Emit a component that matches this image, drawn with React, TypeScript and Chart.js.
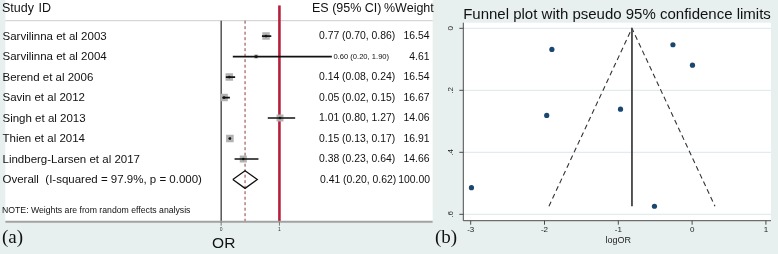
import React, { useEffect, useRef } from 'react';
import { Chart, registerables } from 'chart.js';

Chart.register(...registerables);

// ---------- Panel (a): forest plot data ----------
const studies = [
  'Sarvilinna et al 2003',
  'Sarvilinna et al 2004',
  'Berend et al 2006',
  'Savin et al 2012',
  'Singh et al 2013',
  'Thien et al 2014',
  'Lindberg-Larsen et al 2017',
];
const oddsRatios = [0.77, 0.6, 0.14, 0.05, 1.01, 0.15, 0.38];
const ciLower = [0.7, 0.2, 0.08, 0.02, 0.8, 0.13, 0.23];
const ciUpper = [0.86, 1.9, 0.24, 0.15, 1.27, 0.17, 0.64];
const weights = [16.54, 4.61, 16.54, 16.67, 14.06, 16.91, 14.66];
const overallLabel = 'Overall  (I-squared = 97.9%, p = 0.000)';
const overallOR = [0.41];
const overallCI = [0.2, 0.62];
const overallWeight = [100.0];
const forestTickValues = [0, 1];
const forestTickLabels = ['0', '1'];
const nullEffect = [1];
const noteText = 'NOTE: Weights are from random effects analysis';
const forestXTitle = 'OR';

// ---------- Panel (b): funnel plot data ----------
const funnelLogOR = [-0.26, -0.51, -1.97, -2.99, 0.005, -1.9, -0.97];
const funnelSE = [0.053, 0.574, 0.281, 0.514, 0.119, 0.068, 0.261];
const pooledLogOR = [-0.815];
const funnelLimitLogOR = [-1.94, -0.815, 0.31];
const funnelLimitSE = [0.574, 0, 0.574];
const funnelXTicks = [-3, -2, -1, 0, 1];
const funnelXTickLabels = ['-3', '-2', '-1', '0', '1'];
const funnelYTicks = [0, 0.2, 0.4, 0.6];
const funnelYTickLabels = ['0', '.2', '.4', '.6'];
const funnelTitle = 'Funnel plot with pseudo 95% confidence limits';
const funnelXTitle = 'logOR';

const SANS = '"Liberation Sans", Arial, sans-serif';
const BAND = '#e8f0ef';

// row positions (category index) for the forest plot
const TOP_ROW = -1.5;
const HEADER_ROW = -0.752;
const NOTE_ROW = 8.53;
const BOTTOM_ROW = 9.057;

const forestPlugin = {
  id: 'forestDecor',
  beforeDraw(chart: any) {
    const { ctx, chartArea, scales } = chart;
    ctx.save();
    ctx.fillStyle = '#ffffff';
    ctx.fillRect(chartArea.left, 0, chartArea.right - chartArea.left, chartArea.bottom);
    // header rule
    const hy = scales.y.getPixelForValue(HEADER_ROW);
    ctx.strokeStyle = '#cdcdcd';
    ctx.lineWidth = 1;
    ctx.beginPath();
    ctx.moveTo(chartArea.left, hy);
    ctx.lineTo(chartArea.right, hy);
    ctx.stroke();
    ctx.restore();
  },
  afterDraw(chart: any) {
    const { ctx, chartArea, scales } = chart;
    const x = scales.x;
    const y = scales.y;
    ctx.save();
    // bottom axis
    ctx.strokeStyle = '#a2a2a2';
    ctx.lineWidth = 2;
    ctx.beginPath();
    ctx.moveTo(chartArea.left, chartArea.bottom);
    ctx.lineTo(chartArea.right, chartArea.bottom);
    ctx.stroke();
    ctx.strokeStyle = '#777';
    ctx.lineWidth = 1;
    ctx.fillStyle = '#333';
    ctx.textAlign = 'center';
    ctx.textBaseline = 'middle';
    ctx.font = `5px ${SANS}`;
    forestTickValues.forEach((v, i) => {
      const px = x.getPixelForValue(v);
      ctx.beginPath();
      ctx.moveTo(px, chartArea.bottom);
      ctx.lineTo(px, chartArea.bottom + 4);
      ctx.stroke();
      ctx.fillText(forestTickLabels[i], px, chartArea.bottom + 8);
    });
    ctx.fillStyle = '#111';
    ctx.font = `15.5px ${SANS}`;
    ctx.fillText(forestXTitle, 223.7, 243.5);

    // header
    ctx.textAlign = 'left';
    ctx.fillStyle = '#111';
    ctx.font = `12.5px ${SANS}`;
    ctx.fillText('Study', 2, 8.5);
    ctx.fillText('ID', 2 + ctx.measureText('Study ').width + 1, 8.5);
    ctx.fillText('ES (95% CI)', 312, 8.5);
    ctx.fillText('%Weight', 384, 8.5);

    // study rows
    studies.forEach((name, i) => {
      const py = y.getPixelForValue(i) + 0.5;
      ctx.textAlign = 'left';
      ctx.font = `11.5px ${SANS}`;
      ctx.fillText(name, 2.5, py);
      const es = `${oddsRatios[i].toFixed(2)} (${ciLower[i].toFixed(2)}, ${ciUpper[i].toFixed(2)})`;
      const hiPx = x.getPixelForValue(ciUpper[i]);
      if (hiPx > 316) {
        ctx.font = `7.6px ${SANS}`;
        ctx.fillText(es, hiPx + 1.5, py);
      } else {
        ctx.font = `10.4px ${SANS}`;
        ctx.fillText(es, 319, py);
      }
      ctx.textAlign = 'right';
      ctx.font = `10.4px ${SANS}`;
      ctx.fillText(weights[i].toFixed(2), 429.5, py);
    });
    // overall row
    const oy = y.getPixelForValue(studies.length) + 0.5;
    ctx.textAlign = 'left';
    ctx.font = `11.5px ${SANS}`;
    ctx.fillText(overallLabel, 2.5, oy);
    ctx.font = `10.4px ${SANS}`;
    ctx.fillText(
      `${overallOR[0].toFixed(2)} (${overallCI[0].toFixed(2)}, ${overallCI[1].toFixed(2)})`,
      320,
      oy
    );
    ctx.textAlign = 'right';
    ctx.fillText(overallWeight[0].toFixed(2), 430, oy);
    // note
    ctx.textAlign = 'left';
    ctx.font = `8.7px ${SANS}`;
    ctx.fillText(noteText, 2, y.getPixelForValue(NOTE_ROW));
    ctx.restore();
  },
};

const funnelPlugin = {
  id: 'funnelDecor',
  beforeDatasetsDraw(chart: any) {
    const { ctx, chartArea, scales } = chart;
    const x = scales.x;
    const y = scales.y;
    ctx.save();
    ctx.fillStyle = '#ffffff';
    ctx.fillRect(chartArea.left, chartArea.top, chartArea.right - chartArea.left, chartArea.bottom - chartArea.top);
    ctx.strokeStyle = '#e2ebed';
    ctx.lineWidth = 1.2;
    funnelYTicks.forEach((v) => {
      const py = y.getPixelForValue(v);
      ctx.beginPath();
      ctx.moveTo(chartArea.left, py);
      ctx.lineTo(chartArea.right, py);
      ctx.stroke();
    });
    // axes
    ctx.strokeStyle = '#4a4a4a';
    ctx.lineWidth = 1;
    ctx.beginPath();
    ctx.moveTo(chartArea.left, chartArea.top);
    ctx.lineTo(chartArea.left, chartArea.bottom);
    ctx.lineTo(chartArea.right, chartArea.bottom);
    ctx.stroke();
    ctx.fillStyle = '#222';
    ctx.font = `8px ${SANS}`;
    ctx.textAlign = 'center';
    ctx.textBaseline = 'middle';
    funnelXTicks.forEach((v, i) => {
      const px = x.getPixelForValue(v);
      ctx.beginPath();
      ctx.moveTo(px, chartArea.bottom);
      ctx.lineTo(px, chartArea.bottom + 4);
      ctx.stroke();
      ctx.fillText(funnelXTickLabels[i], px, chartArea.bottom + 9);
    });
    funnelYTicks.forEach((v, i) => {
      const py = y.getPixelForValue(v);
      ctx.beginPath();
      ctx.moveTo(chartArea.left - 4, py);
      ctx.lineTo(chartArea.left, py);
      ctx.stroke();
      ctx.save();
      ctx.translate(chartArea.left - 13, py);
      ctx.rotate(-Math.PI / 2);
      ctx.fillText(funnelYTickLabels[i], 0, 0);
      ctx.restore();
    });
    ctx.font = `9px ${SANS}`;
    ctx.fillText(funnelXTitle, 180.3, 240.5);
    ctx.fillStyle = '#111';
    ctx.font = `15px ${SANS}`;
    ctx.fillText(funnelTitle, 179, 15);
    ctx.restore();
  },
};

export default function App() {
  const refA = useRef<HTMLCanvasElement>(null);
  const refB = useRef<HTMLCanvasElement>(null);

  useEffect(() => {
    document.body.style.margin = '0';
    const rows = studies.map((_, i) => i);
    const overallRow = studies.length;

    const forestDatasets: any[] = [
      {
        data: [
          { x: nullEffect[0], y: TOP_ROW },
          { x: nullEffect[0], y: BOTTOM_ROW },
        ],
        showLine: true,
        borderColor: '#b81f3c',
        borderWidth: 2.6,
        pointRadius: 0,
        order: 10,
      },
      {
        data: [
          { x: forestTickValues[0], y: HEADER_ROW },
          { x: forestTickValues[0], y: BOTTOM_ROW },
        ],
        showLine: true,
        borderColor: '#2a2a2a',
        borderWidth: 1.2,
        pointRadius: 0,
        order: 10,
      },
      {
        data: [
          { x: overallOR[0], y: HEADER_ROW },
          { x: overallOR[0], y: BOTTOM_ROW },
        ],
        showLine: true,
        borderColor: '#8f3d3d',
        borderWidth: 1,
        borderDash: [3, 2.5],
        pointRadius: 0,
        order: 10,
      },
      {
        data: rows.map((i) => ({ x: oddsRatios[i], y: i })),
        showLine: false,
        pointStyle: 'rect',
        pointRadius: weights.map((w) => (7.5 * Math.sqrt(w / 16.5)) / Math.SQRT2),
        pointBackgroundColor: '#b2b2b2',
        pointBorderWidth: 0,
        order: 5,
      },
      ...rows.map((i) => ({
        data: [
          { x: ciLower[i], y: i },
          { x: ciUpper[i], y: i },
        ],
        showLine: true,
        borderColor: '#111',
        borderWidth: 1.6,
        pointRadius: 0,
        order: 3,
      })),
      {
        data: [
          { x: overallCI[0], y: overallRow },
          { x: overallOR[0], y: overallRow - 0.43 },
          { x: overallCI[1], y: overallRow },
          { x: overallOR[0], y: overallRow + 0.43 },
          { x: overallCI[0], y: overallRow },
        ],
        showLine: true,
        borderColor: '#111',
        borderWidth: 1.3,
        pointRadius: 0,
        order: 2,
      },
      {
        data: rows.map((i) => ({ x: oddsRatios[i], y: i })),
        showLine: false,
        pointRadius: 1.3,
        pointBackgroundColor: '#111',
        pointBorderWidth: 0,
        order: 1,
      },
    ];

    const chartA = new Chart(refA.current!, {
      type: 'scatter',
      data: { datasets: forestDatasets },
      options: {
        responsive: false,
        animation: false,
        events: [],
        layout: { padding: { left: 0, right: 1, top: 0, bottom: 32.3 } },
        plugins: { legend: { display: false }, tooltip: { enabled: false }, title: { display: false } },
        scales: {
          x: { type: 'linear', display: false, min: -3.703, max: 3.629 },
          y: { type: 'linear', display: false, reverse: true, min: TOP_ROW, max: BOTTOM_ROW },
        },
      } as any,
      plugins: [forestPlugin],
    });

    const maxSE = Math.max(...funnelSE);
    const chartB = new Chart(refB.current!, {
      type: 'scatter',
      data: {
        datasets: [
          {
            data: funnelLimitLogOR.map((v, i) => ({ x: v, y: funnelLimitSE[i] })),
            showLine: true,
            borderColor: '#333',
            borderWidth: 1.1,
            borderDash: [5, 3.5],
            pointRadius: 0,
            order: 3,
          } as any,
          {
            data: [
              { x: pooledLogOR[0], y: 0 },
              { x: pooledLogOR[0], y: maxSE },
            ],
            showLine: true,
            borderColor: '#444',
            borderWidth: 1.8,
            pointRadius: 0,
            order: 2,
          },
          {
            data: funnelLogOR.map((v, i) => ({ x: v, y: funnelSE[i] })),
            showLine: false,
            pointRadius: 2.6,
            pointBackgroundColor: '#1a476f',
            pointBorderWidth: 0,
            order: 1,
          },
        ],
      },
      options: {
        responsive: false,
        animation: false,
        events: [],
        layout: { padding: { left: 25.3, right: 7, top: 22.7, bottom: 33.3 } },
        plugins: { legend: { display: false }, tooltip: { enabled: false }, title: { display: false } },
        scales: {
          x: { type: 'linear', display: false, min: -3.1003, max: 1.069 },
          y: { type: 'linear', display: false, reverse: true, min: -0.01806, max: 0.6206 },
        },
      } as any,
      plugins: [funnelPlugin],
    });

    return () => {
      chartA.destroy();
      chartB.destroy();
    };
  }, []);

  const panelLabel: React.CSSProperties = {
    position: 'absolute',
    top: 226,
    font: '19px "Liberation Serif", "Times New Roman", serif',
    lineHeight: '21px',
    color: '#111',
    whiteSpace: 'nowrap',
  };

  return (
    <div style={{ position: 'relative', width: 778, height: 254, background: BAND, overflow: 'hidden' }}>
      <canvas ref={refA} width={438} height={254} style={{ position: 'absolute', left: 0, top: 0 }} />
      <canvas ref={refB} width={340} height={254} style={{ position: 'absolute', left: 438, top: 0 }} />
      <div style={{ ...panelLabel, left: 2 }}>(a)</div>
      <div style={{ ...panelLabel, left: 435 }}>(b)</div>
    </div>
  );
}
